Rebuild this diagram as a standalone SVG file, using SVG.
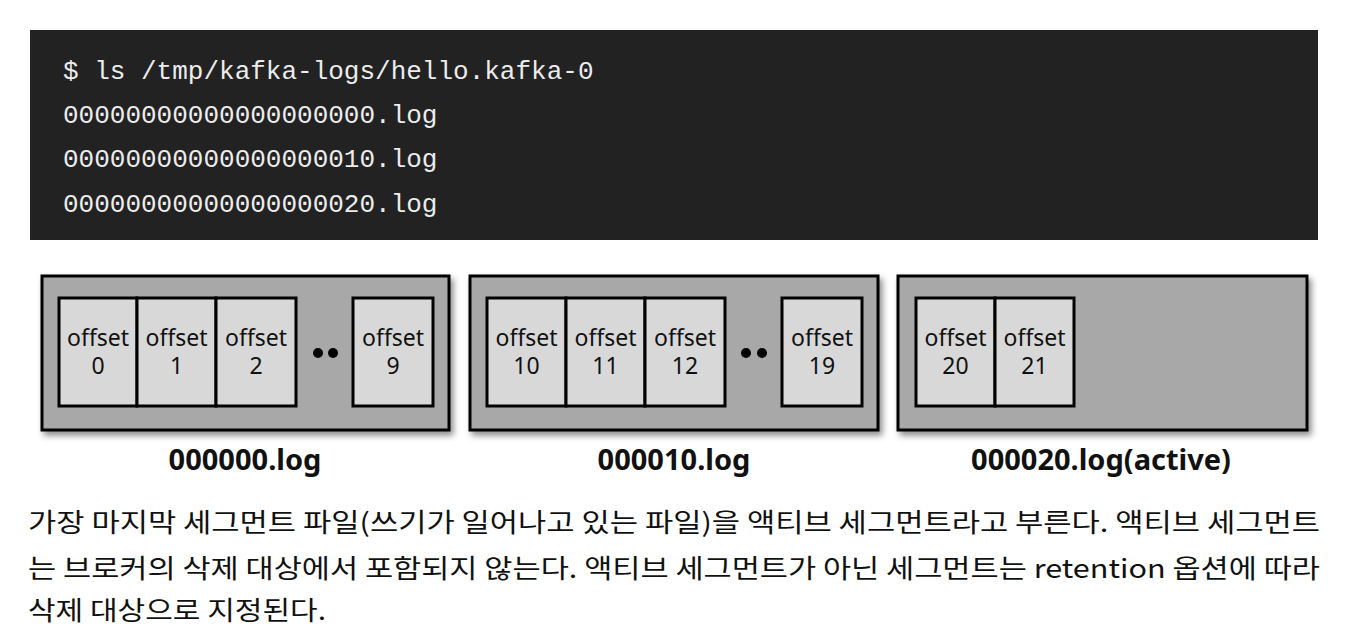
<svg xmlns="http://www.w3.org/2000/svg" width="1359" height="640" viewBox="0 0 1359 640">
<style>
.term{font-family:"Liberation Mono","DejaVu Sans Mono",monospace;font-size:26px;fill:#ececec}
.seg{fill:#a8a8a8;stroke:#000;stroke-width:3}
.cell{fill:#d8d8d8;stroke:#000;stroke-width:3}
.ct{font-family:"Noto Sans","Noto Sans CJK KR",sans-serif;font-size:23px;fill:#111;text-anchor:middle}
.lbl{font-family:"Noto Sans","Noto Sans CJK KR",sans-serif;font-size:29px;font-weight:bold;fill:#111;text-anchor:middle}
.body{font-family:"Noto Sans CJK KR","Noto Sans",sans-serif;font-size:26px;fill:#111}
</style>
<defs>
<filter id="sh" x="-5%" y="-10%" width="115%" height="130%">
<feDropShadow dx="3" dy="4" stdDeviation="3" flood-color="#000" flood-opacity="0.45"/>
</filter>
</defs>
<rect width="1359" height="640" fill="#fff"/>
<g id="terminal">
<rect x="30" y="30" width="1288" height="210" fill="#222"/>
<text class="term" x="63" y="79">$ ls /tmp/kafka-logs/hello.kafka-0</text>
<text class="term" x="63" y="123">00000000000000000000.log</text>
<text class="term" x="63" y="167">00000000000000000010.log</text>
<text class="term" x="63" y="212">00000000000000000020.log</text>
</g>
<g id="segment0">
<rect class="seg" x="42" y="276" width="407" height="154" filter="url(#sh)"/>
<rect class="cell" x="59" y="298" width="78" height="108"/>
<rect class="cell" x="137" y="298" width="79" height="108"/>
<rect class="cell" x="216" y="298" width="80" height="108"/>
<rect class="cell" x="353" y="298" width="80" height="108"/>
<circle cx="318" cy="353" r="5" fill="#000"/>
<circle cx="333" cy="353" r="5" fill="#000"/>
<text class="ct" x="98" y="346">offset</text><text class="ct" x="98" y="374">0</text>
<text class="ct" x="176.5" y="346">offset</text><text class="ct" x="176.5" y="374">1</text>
<text class="ct" x="256" y="346">offset</text><text class="ct" x="256" y="374">2</text>
<text class="ct" x="393" y="346">offset</text><text class="ct" x="393" y="374">9</text>
<text class="lbl" x="245" y="470">000000.log</text>
</g>
<g id="segment10">
<rect class="seg" x="470" y="276" width="408" height="154" filter="url(#sh)"/>
<rect class="cell" x="487" y="298" width="79" height="108"/>
<rect class="cell" x="566" y="298" width="79" height="108"/>
<rect class="cell" x="645" y="298" width="80" height="108"/>
<rect class="cell" x="782" y="298" width="80" height="108"/>
<circle cx="746" cy="353" r="5" fill="#000"/>
<circle cx="762" cy="353" r="5" fill="#000"/>
<text class="ct" x="526.5" y="346">offset</text><text class="ct" x="526.5" y="374">10</text>
<text class="ct" x="605.5" y="346">offset</text><text class="ct" x="605.5" y="374">11</text>
<text class="ct" x="685" y="346">offset</text><text class="ct" x="685" y="374">12</text>
<text class="ct" x="822" y="346">offset</text><text class="ct" x="822" y="374">19</text>
<text class="lbl" x="674" y="470">000010.log</text>
</g>
<g id="segment20">
<rect class="seg" x="898" y="276" width="409" height="154" filter="url(#sh)"/>
<rect class="cell" x="916" y="298" width="79" height="108"/>
<rect class="cell" x="995" y="298" width="79" height="108"/>
<text class="ct" x="955.5" y="346">offset</text><text class="ct" x="955.5" y="374">20</text>
<text class="ct" x="1034.5" y="346">offset</text><text class="ct" x="1034.5" y="374">21</text>
<text class="lbl" x="1101" y="470">000020.log(active)</text>
</g>
<g id="caption">
<text class="body" x="28" y="532" textLength="1292" lengthAdjust="spacingAndGlyphs">가장 마지막 세그먼트 파일(쓰기가 일어나고 있는 파일)을 액티브 세그먼트라고 부른다. 액티브 세그먼트</text>
<text class="body" x="28" y="578" textLength="1292" lengthAdjust="spacingAndGlyphs">는 브로커의 삭제 대상에서 포함되지 않는다. 액티브 세그먼트가 아닌 세그먼트는 retention 옵션에 따라</text>
<text class="body" x="28" y="620" textLength="298" lengthAdjust="spacingAndGlyphs">삭제 대상으로 지정된다.</text>
</g>
</svg>
